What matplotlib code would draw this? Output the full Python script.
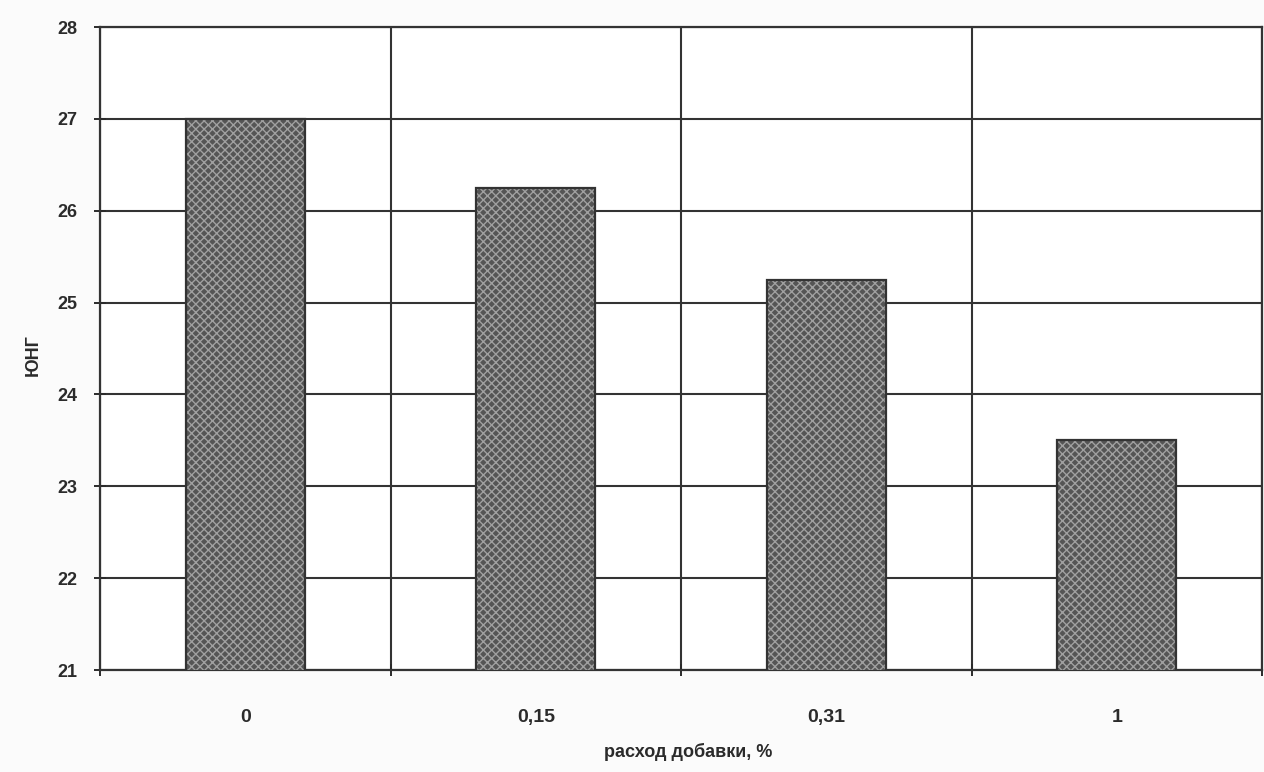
import matplotlib
matplotlib.use("Agg")
import matplotlib.pyplot as plt
import numpy as np

# расход добавки vs НГ
categories = ["0", "0,15", "0,31", "1"]
values = [27.0, 26.25, 25.25, 23.5]
yticks = [21, 22, 23, 24, 25, 26, 27, 28]

INK = "#2b2b2b"
plt.rcParams["font.family"] = ["Liberation Sans", "DejaVu Sans"]
plt.rcParams["font.weight"] = "bold"
plt.rcParams["axes.labelweight"] = "bold"
plt.rcParams["hatch.linewidth"] = 1.0

fig = plt.figure(figsize=(12.64, 7.72), dpi=100)
ax = fig.add_axes([100 / 1264, 1 - 670 / 772, 1162 / 1264, 643 / 772])

x = np.arange(len(categories))
ax.bar(x, values, width=0.41, bottom=0, color="#555555", edgecolor="#a0a0a0",
       hatch="xxxx", linewidth=0, zorder=3)
ax.bar(x, values, width=0.41, bottom=0, facecolor="none", edgecolor="#333333",
       linewidth=1.6, zorder=4)

ax.set_xlim(-0.5, len(categories) - 0.5)
ax.set_ylim(yticks[0], yticks[-1])
ax.set_yticks(yticks)
ax.set_yticklabels([str(t) for t in yticks], fontsize=13, color=INK)
ax.set_xticks(x)
ax.set_xticklabels(categories, fontsize=14, color=INK)
ax.set_xticks(np.arange(len(categories) + 1) - 0.5, minor=True)

ax.tick_params(axis="x", which="major", length=0, pad=28)
ax.tick_params(axis="x", which="minor", length=8, width=1.4, color=INK, direction="inout")
ax.tick_params(axis="y", which="major", length=8, width=1.4, color=INK, direction="inout", pad=12)

ax.grid(True, axis="y", which="major", color="#333333", linewidth=1.5, zorder=1)
ax.grid(True, axis="x", which="minor", color="#333333", linewidth=1.5, zorder=1)
ax.set_axisbelow(True)

for side in ("left", "bottom", "top", "right"):
    ax.spines[side].set_color("#333333")
    ax.spines[side].set_linewidth(1.6)

ax.set_ylabel("ЮНГ", fontsize=13, color=INK)
ax.set_xlabel("расход добавки, %", fontsize=13, color=INK)
ax.yaxis.set_label_coords(-58 / 1162, 0.49)
ax.xaxis.set_label_coords(588 / 1162, -73 / 643)

fig.savefig("out.png", dpi=100, facecolor="#fbfbfb")
